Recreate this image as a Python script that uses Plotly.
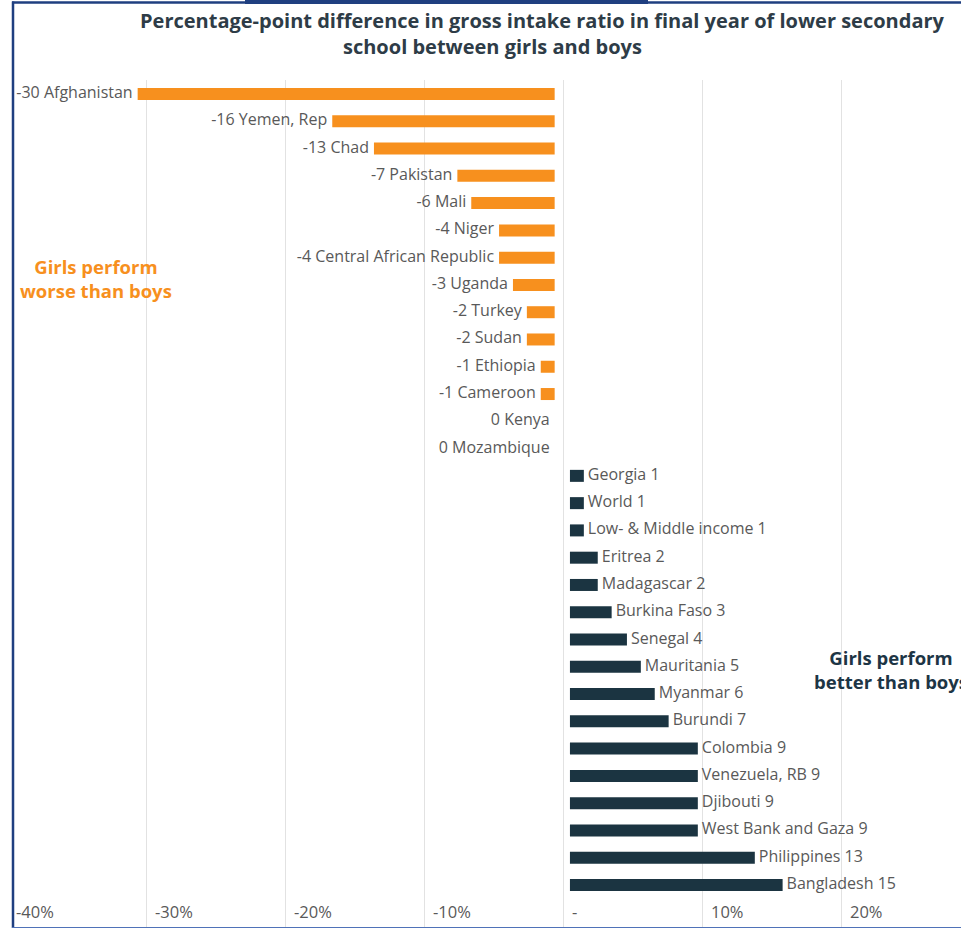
import plotly.graph_objects as go

# ---- data ----
countries = ["Afghanistan", "Yemen, Rep", "Chad", "Pakistan", "Mali", "Niger",
             "Central African Republic", "Uganda", "Turkey", "Sudan", "Ethiopia",
             "Cameroon", "Kenya", "Mozambique", "Georgia", "World",
             "Low- & Middle income", "Eritrea", "Madagascar", "Burkina Faso",
             "Senegal", "Mauritania", "Myanmar", "Burundi", "Colombia",
             "Venezuela, RB", "Djibouti", "West Bank and Gaza", "Philippines",
             "Bangladesh"]
values = [-30, -16, -13, -7, -6, -4, -4, -3, -2, -2, -1, -1, 0, 0,
          1, 1, 1, 2, 2, 3, 4.1, 5.1, 6.1, 7.1, 9.2, 9.2, 9.2, 9.2, 13.3, 15.3]
tick_vals = [-40, -30, -20, -10, 0, 10, 20]
tick_text = ["-40%", "-30%", "-20%", "-10%", "-", "10%", "20%"]
title_lines = ["Percentage-point difference in gross intake ratio in final year of lower secondary",
               "school between girls and boys"]
note_worse = "Girls perform<br>worse than boys"
note_better = "Girls perform<br>better than boys"

ORANGE = "#F7901E"
NAVY = "#1B3441"
LABEL = "#595959"
FONT = "Open Sans"

W, H = 961, 929
ML, MR, MT, MB = 7, 0, 80, 2
PW, PH = W - ML - MR, H - MT - MB
UNIT = 13.9  # px per percentage point

def px(x):
    return (x - ML) / PW

def py(y):
    return (H - MB - y) / PH

NEG_BASE = -0.6
POS_BASE = 0.5
NEG_PAD = 5 / UNIT
POS_PAD = 4 / UNIT

neg_c = [c for c, v in zip(countries, values) if v <= 0]
neg_v = [v for v in values if v <= 0]
pos_c = [c for c, v in zip(countries, values) if v > 0]
pos_v = [v for v in values if v > 0]

fig = go.Figure()
fig.add_trace(go.Bar(y=neg_c, x=neg_v, base=NEG_BASE, orientation="h",
                     marker=dict(color=ORANGE, line=dict(width=0)), width=0.44,
                     hoverinfo="skip"))
fig.add_trace(go.Bar(y=pos_c, x=pos_v, base=POS_BASE, orientation="h",
                     marker=dict(color=NAVY, line=dict(width=0)), width=0.44,
                     hoverinfo="skip"))
fig.add_trace(go.Scatter(y=neg_c, x=[v + NEG_BASE - NEG_PAD for v in neg_v], mode="text",
                         text=[f"{round(v)} {c}" for c, v in zip(neg_c, neg_v)],
                         textposition="middle left",
                         textfont=dict(family=FONT, size=16, color=LABEL),
                         hoverinfo="skip"))
fig.add_trace(go.Scatter(y=pos_c, x=[v + POS_BASE + POS_PAD for v in pos_v], mode="text",
                         text=[f"{c} {round(v)}" for c, v in zip(pos_c, pos_v)],
                         textposition="middle right",
                         textfont=dict(family=FONT, size=16, color=LABEL),
                         hoverinfo="skip"))

n = len(countries)
step = 27.276
y_top = -0.5 - (94 - 80 - 0.5 * step) / step
y_bot = (n - 1) + (927 - 885) / step

fig.update_layout(
    width=W, height=H,
    margin=dict(l=ML, r=MR, t=MT, b=MB, pad=0),
    paper_bgcolor="white", plot_bgcolor="white",
    showlegend=False, barmode="overlay",
    font=dict(family=FONT, color=LABEL),
    xaxis=dict(range=[-40, -40 + PW / UNIT], tickvals=tick_vals, ticktext=tick_text,
               showgrid=True, gridcolor="#E2E2E2", gridwidth=1, zeroline=False,
               showline=False, ticks="", ticklabelposition="inside right",
               ticklabelshift=9, ticklabelstandoff=0,
               tickfont=dict(family=FONT, size=16.5, color=LABEL)),
    yaxis=dict(range=[y_bot, y_top], showticklabels=False, showgrid=False,
               zeroline=False, showline=False, ticks=""),
)

annos = [
    dict(text=f"<b>{title_lines[0]}</b>", x=px(542), y=py(21)),
    dict(text=f"<b>{title_lines[1]}</b>", x=px(492), y=py(46)),
]
for a in annos:
    fig.add_annotation(xref="paper", yref="paper", xanchor="center", yanchor="middle",
                       showarrow=False, font=dict(family=FONT, size=20, color="#2E3C47"), **a)
fig.add_annotation(xref="paper", yref="paper", x=px(96), y=py(279), text=f"<b>{note_worse}</b>",
                   showarrow=False, xanchor="center", yanchor="middle", align="center",
                   font=dict(family=FONT, size=18.5, color=ORANGE))
fig.add_annotation(xref="paper", yref="paper", x=px(891), y=py(669), text=f"<b>{note_better}</b>",
                   showarrow=False, xanchor="center", yanchor="middle", align="center",
                   font=dict(family=FONT, size=18.5, color="#1D3545"))

# frame
fig.add_shape(type="rect", xref="paper", yref="paper", x0=px(0), x1=px(11.5), y0=py(929), y1=py(0),
              fillcolor="white", line=dict(width=0), layer="above")
fig.add_shape(type="line", xref="paper", yref="paper", x0=px(13), x1=px(13), y0=py(928), y1=py(1.5),
              line=dict(color="#1F3F80", width=2.5), layer="above")
fig.add_shape(type="line", xref="paper", yref="paper", x0=px(12), x1=px(961), y0=py(2.5), y1=py(2.5),
              line=dict(color="#1F3F80", width=2.5), layer="above")
fig.add_shape(type="rect", xref="paper", yref="paper", x0=px(245), x1=px(648), y0=py(4), y1=py(0),
              fillcolor="#1F3F80", line=dict(width=0), layer="above")
fig.add_shape(type="line", xref="paper", yref="paper", x0=px(12), x1=px(961), y0=py(927.5), y1=py(927.5),
              line=dict(color="#4F72B8", width=1.2), layer="above")

fig.write_html("out.html", config={"displayModeBar": False},
               post_script="document.body.style.margin='0';document.body.style.overflow='hidden';")
